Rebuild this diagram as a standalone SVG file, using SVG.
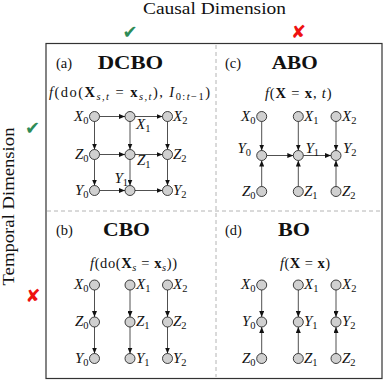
<svg xmlns="http://www.w3.org/2000/svg" width="384" height="382" viewBox="0 0 384 382">
<defs>
<marker id="arr" markerUnits="userSpaceOnUse" markerWidth="6" markerHeight="5" refX="6" refY="2.5" orient="auto">
<path d="M0,0 L6,2.5 L0,5 z" fill="#111"/>
</marker>
<style>
text{font-family:"Liberation Serif","Times New Roman",serif;fill:#111}
.hd{font-size:16.5px}
.pl{font-size:14.5px}
.tt{font-size:19px;font-weight:bold}
.fm{font-size:14.5px}
.lb{font-size:15px;font-style:italic}
.sb{font-size:10.5px;font-style:normal}
.si{font-size:10.5px;font-style:italic}
.bf{font-weight:bold}
.it{font-style:italic}
.ck{font-family:"DejaVu Sans",sans-serif;font-size:18px}
.e{stroke:#505050;stroke-width:1;fill:none;marker-end:url(#arr)}
.n{fill:#d0d0d0;stroke:#111;stroke-width:0.8}
.dash{stroke:#b4b4b4;stroke-width:1;stroke-dasharray:4,3;fill:none}
</style>
</defs>
<rect width="384" height="382" fill="#fff"/>

<g id="frame">
<rect x="46" y="43.5" width="336" height="335" fill="none" stroke="#333" stroke-width="1.2"/>
<line class="dash" x1="216" y1="45" x2="216" y2="377"/>
<line class="dash" x1="47" y1="211" x2="381" y2="211"/>
</g>

<g id="headers">
<text class="hd" x="143" y="13.5" textLength="143" lengthAdjust="spacingAndGlyphs">Causal Dimension</text>
<text class="hd" transform="translate(13.5,206.5) rotate(-90)" text-anchor="middle" textLength="158" lengthAdjust="spacingAndGlyphs">Temporal Dimension</text>
<text class="ck" x="130" y="37.5" text-anchor="middle" style="fill:#2e8b57">✔</text>
<text class="ck" x="298.5" y="37.5" text-anchor="middle" style="fill:#ee1111">✘</text>
<text class="ck" x="32.5" y="134" text-anchor="middle" style="fill:#2e8b57">✔</text>
<text class="ck" x="33" y="301.5" text-anchor="middle" style="fill:#ee1111">✘</text>
</g>

<g id="titles">
<text class="pl" x="56" y="68">(a)</text>
<text class="tt" x="97.7" y="69" textLength="65.6" lengthAdjust="spacingAndGlyphs">DCBO</text>
<text class="pl" x="225" y="68">(c)</text>
<text class="tt" x="271.7" y="69" textLength="46" lengthAdjust="spacingAndGlyphs">ABO</text>
<text class="pl" x="56" y="235">(b)</text>
<text class="tt" x="103" y="236" textLength="47" lengthAdjust="spacingAndGlyphs">CBO</text>
<text class="pl" x="225" y="235">(d)</text>
<text class="tt" x="278" y="236" textLength="32" lengthAdjust="spacingAndGlyphs">BO</text>
</g>

<g id="formulas">
<text class="fm" x="49" y="97" textLength="161"><tspan class="it">f</tspan>(do(<tspan class="bf">X</tspan><tspan class="si" dy="3">s,t</tspan><tspan dy="-3"> = </tspan><tspan class="bf">x</tspan><tspan class="si" dy="3">s,t</tspan><tspan dy="-3">), </tspan><tspan class="it">I</tspan><tspan class="sb" dy="3">0:<tspan class="si">t</tspan>−1</tspan><tspan dy="-3">)</tspan></text>
<text class="fm" x="265" y="98" textLength="66.5"><tspan class="it">f</tspan>(<tspan class="bf">X</tspan> = <tspan class="bf">x</tspan>, <tspan class="it">t</tspan>)</text>
<text class="fm" x="90" y="267.5" textLength="87"><tspan class="it">f</tspan>(do(<tspan class="bf">X</tspan><tspan class="si" dy="3">s</tspan><tspan dy="-3"> = </tspan><tspan class="bf">x</tspan><tspan class="si" dy="3">s</tspan><tspan dy="-3">))</tspan></text>
<text class="fm" x="280" y="267.5" textLength="50"><tspan class="it">f</tspan>(<tspan class="bf">X</tspan> = <tspan class="bf">x</tspan>)</text>
</g>

<g id="connectors">
<!-- panel a -->
<line class="e" x1="99.5" y1="116.5" x2="125" y2="116.5"/>
<line class="e" x1="135" y1="116.5" x2="162.5" y2="116.5"/>
<line class="e" x1="99.5" y1="154.5" x2="125" y2="154.5"/>
<line class="e" x1="135" y1="154.5" x2="162.5" y2="154.5"/>
<line class="e" x1="99.5" y1="190.5" x2="125" y2="190.5"/>
<line class="e" x1="135" y1="190.5" x2="162.5" y2="190.5"/>
<line class="e" x1="94.5" y1="121.5" x2="94.5" y2="149.5"/>
<line class="e" x1="94.5" y1="159.5" x2="94.5" y2="185.5"/>
<line class="e" x1="130" y1="121.5" x2="130" y2="149.5"/>
<line class="e" x1="130" y1="159.5" x2="130" y2="185.5"/>
<line class="e" x1="167.5" y1="121.5" x2="167.5" y2="149.5"/>
<line class="e" x1="167.5" y1="159.5" x2="167.5" y2="185.5"/>
<!-- panel c -->
<line class="e" x1="261.7" y1="121.5" x2="261.7" y2="150.5"/>
<line class="e" x1="298.3" y1="121.5" x2="298.3" y2="150.5"/>
<line class="e" x1="336" y1="121.5" x2="336" y2="150.5"/>
<line class="e" x1="261.7" y1="186.5" x2="261.7" y2="160.5"/>
<line class="e" x1="298.3" y1="186.5" x2="298.3" y2="160.5"/>
<line class="e" x1="336" y1="186.5" x2="336" y2="160.5"/>
<line class="e" x1="266.7" y1="155.5" x2="293.3" y2="155.5"/>
<line class="e" x1="303.3" y1="155.5" x2="331" y2="155.5"/>
<!-- panel b -->
<line class="e" x1="94.5" y1="290" x2="94.5" y2="317"/>
<line class="e" x1="94.5" y1="327" x2="94.5" y2="353.5"/>
<line class="e" x1="130" y1="290" x2="130" y2="317"/>
<line class="e" x1="130" y1="327" x2="130" y2="353.5"/>
<line class="e" x1="167.5" y1="290" x2="167.5" y2="317"/>
<line class="e" x1="167.5" y1="327" x2="167.5" y2="353.5"/>
<!-- panel d -->
<line class="e" x1="261.7" y1="290" x2="261.7" y2="317"/>
<line class="e" x1="261.7" y1="353.5" x2="261.7" y2="327"/>
<line class="e" x1="298.3" y1="290" x2="298.3" y2="317"/>
<line class="e" x1="298.3" y1="353.5" x2="298.3" y2="327"/>
<line class="e" x1="336" y1="290" x2="336" y2="317"/>
<line class="e" x1="336" y1="353.5" x2="336" y2="327"/>
</g>

<!-- panel a nodes -->
<g id="a-X0"><circle class="n" cx="94.5" cy="116.5" r="5"/><text class="lb" x="88.5" y="120.5" text-anchor="end">X<tspan class="sb" dy="3">0</tspan></text></g>
<g id="a-X1"><circle class="n" cx="130" cy="116.5" r="5"/><text class="lb" x="136" y="129">X<tspan class="sb" dy="3">1</tspan></text></g>
<g id="a-X2"><circle class="n" cx="167.5" cy="116.5" r="5"/><text class="lb" x="173" y="120.5">X<tspan class="sb" dy="3">2</tspan></text></g>
<g id="a-Z0"><circle class="n" cx="94.5" cy="154.5" r="5"/><text class="lb" x="88.5" y="158.5" text-anchor="end">Z<tspan class="sb" dy="3">0</tspan></text></g>
<g id="a-Z1"><circle class="n" cx="130" cy="154.5" r="5"/><text class="lb" x="137" y="165">Z<tspan class="sb" dy="3">1</tspan></text></g>
<g id="a-Z2"><circle class="n" cx="167.5" cy="154.5" r="5"/><text class="lb" x="173" y="158.5">Z<tspan class="sb" dy="3">2</tspan></text></g>
<g id="a-Y0"><circle class="n" cx="94.5" cy="190.5" r="5"/><text class="lb" x="88.5" y="194.5" text-anchor="end">Y<tspan class="sb" dy="3">0</tspan></text></g>
<g id="a-Y1"><circle class="n" cx="130" cy="190.5" r="5"/><text class="lb" x="128" y="183" text-anchor="end">Y<tspan class="sb" dy="3">1</tspan></text></g>
<g id="a-Y2"><circle class="n" cx="167.5" cy="190.5" r="5"/><text class="lb" x="173" y="194.5">Y<tspan class="sb" dy="3">2</tspan></text></g>

<!-- panel c nodes -->
<g id="c-X0"><circle class="n" cx="261.7" cy="116.5" r="5"/><text class="lb" x="255.5" y="120.5" text-anchor="end">X<tspan class="sb" dy="3">0</tspan></text></g>
<g id="c-X1"><circle class="n" cx="298.3" cy="116.5" r="5"/><text class="lb" x="304" y="120.5">X<tspan class="sb" dy="3">1</tspan></text></g>
<g id="c-X2"><circle class="n" cx="336" cy="116.5" r="5"/><text class="lb" x="342" y="120.5">X<tspan class="sb" dy="3">2</tspan></text></g>
<g id="c-Y0"><circle class="n" cx="261.7" cy="155.5" r="5"/><text class="lb" x="251" y="153" text-anchor="end">Y<tspan class="sb" dy="3">0</tspan></text></g>
<g id="c-Y1"><circle class="n" cx="298.3" cy="155.5" r="5"/><text class="lb" x="305.5" y="153">Y<tspan class="sb" dy="3">1</tspan></text></g>
<g id="c-Y2"><circle class="n" cx="336" cy="155.5" r="5"/><text class="lb" x="343" y="153">Y<tspan class="sb" dy="3">2</tspan></text></g>
<g id="c-Z0"><circle class="n" cx="261.7" cy="191.5" r="5"/><text class="lb" x="255.5" y="195.5" text-anchor="end">Z<tspan class="sb" dy="3">0</tspan></text></g>
<g id="c-Z1"><circle class="n" cx="298.3" cy="191.5" r="5"/><text class="lb" x="304" y="195.5">Z<tspan class="sb" dy="3">1</tspan></text></g>
<g id="c-Z2"><circle class="n" cx="336" cy="191.5" r="5"/><text class="lb" x="342" y="195.5">Z<tspan class="sb" dy="3">2</tspan></text></g>

<!-- panel b nodes -->
<g id="b-X0"><circle class="n" cx="94.5" cy="285" r="5"/><text class="lb" x="88.5" y="289" text-anchor="end">X<tspan class="sb" dy="3">0</tspan></text></g>
<g id="b-X1"><circle class="n" cx="130" cy="285" r="5"/><text class="lb" x="136" y="289">X<tspan class="sb" dy="3">1</tspan></text></g>
<g id="b-X2"><circle class="n" cx="167.5" cy="285" r="5"/><text class="lb" x="173" y="289">X<tspan class="sb" dy="3">2</tspan></text></g>
<g id="b-Z0"><circle class="n" cx="94.5" cy="322" r="5"/><text class="lb" x="88.5" y="326" text-anchor="end">Z<tspan class="sb" dy="3">0</tspan></text></g>
<g id="b-Z1"><circle class="n" cx="130" cy="322" r="5"/><text class="lb" x="136" y="326">Z<tspan class="sb" dy="3">1</tspan></text></g>
<g id="b-Z2"><circle class="n" cx="167.5" cy="322" r="5"/><text class="lb" x="173" y="326">Z<tspan class="sb" dy="3">2</tspan></text></g>
<g id="b-Y0"><circle class="n" cx="94.5" cy="358.5" r="5"/><text class="lb" x="88.5" y="362.5" text-anchor="end">Y<tspan class="sb" dy="3">0</tspan></text></g>
<g id="b-Y1"><circle class="n" cx="130" cy="358.5" r="5"/><text class="lb" x="136" y="362.5">Y<tspan class="sb" dy="3">1</tspan></text></g>
<g id="b-Y2"><circle class="n" cx="167.5" cy="358.5" r="5"/><text class="lb" x="173" y="362.5">Y<tspan class="sb" dy="3">2</tspan></text></g>

<!-- panel d nodes -->
<g id="d-X0"><circle class="n" cx="261.7" cy="285" r="5"/><text class="lb" x="255.5" y="289" text-anchor="end">X<tspan class="sb" dy="3">0</tspan></text></g>
<g id="d-X1"><circle class="n" cx="298.3" cy="285" r="5"/><text class="lb" x="304" y="289">X<tspan class="sb" dy="3">1</tspan></text></g>
<g id="d-X2"><circle class="n" cx="336" cy="285" r="5"/><text class="lb" x="342" y="289">X<tspan class="sb" dy="3">2</tspan></text></g>
<g id="d-Y0"><circle class="n" cx="261.7" cy="322" r="5"/><text class="lb" x="255.5" y="326" text-anchor="end">Y<tspan class="sb" dy="3">0</tspan></text></g>
<g id="d-Y1"><circle class="n" cx="298.3" cy="322" r="5"/><text class="lb" x="304" y="326">Y<tspan class="sb" dy="3">1</tspan></text></g>
<g id="d-Y2"><circle class="n" cx="336" cy="322" r="5"/><text class="lb" x="342" y="326">Y<tspan class="sb" dy="3">2</tspan></text></g>
<g id="d-Z0"><circle class="n" cx="261.7" cy="358.5" r="5"/><text class="lb" x="255.5" y="362.5" text-anchor="end">Z<tspan class="sb" dy="3">0</tspan></text></g>
<g id="d-Z1"><circle class="n" cx="298.3" cy="358.5" r="5"/><text class="lb" x="304" y="362.5">Z<tspan class="sb" dy="3">1</tspan></text></g>
<g id="d-Z2"><circle class="n" cx="336" cy="358.5" r="5"/><text class="lb" x="342" y="362.5">Z<tspan class="sb" dy="3">2</tspan></text></g>
</svg>
